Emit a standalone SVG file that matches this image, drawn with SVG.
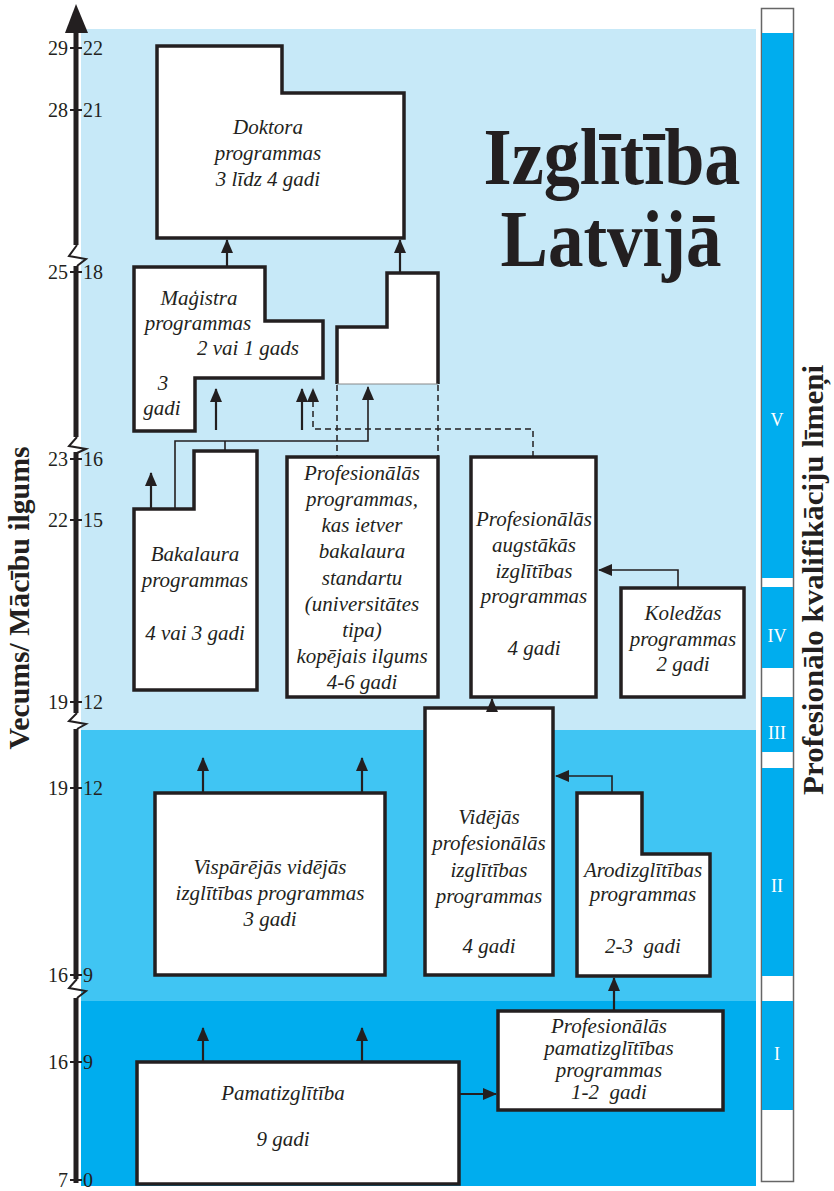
<svg xmlns="http://www.w3.org/2000/svg" width="834" height="1191" viewBox="0 0 834 1191">
<style>
.node{fill:#fff;stroke:#231F20;stroke-width:3.5;stroke-linejoin:miter}
.t{font-family:"Liberation Serif","Times New Roman",serif;font-style:italic;font-size:21px;fill:#231F20;text-anchor:middle}
.ax{font-family:"Liberation Serif","Times New Roman",serif;font-size:20px;fill:#231F20}
.rn{font-family:"Liberation Serif","Times New Roman",serif;font-size:18px;fill:#fff;text-anchor:middle}
.vt{font-family:"Liberation Serif","Times New Roman",serif;font-weight:bold;font-size:29px;fill:#231F20;text-anchor:middle}
.c{fill:none;stroke:#231F20;stroke-width:2.2}
.thin{fill:none;stroke:#231F20;stroke-width:1.6}
.d{fill:none;stroke:#231F20;stroke-width:1.5;stroke-dasharray:6,4}
.lvl{fill:#00ADEE}
</style>
<defs>
<marker id="ah" viewBox="0 0 14 12" refX="13" refY="6" markerWidth="14" markerHeight="12" orient="auto" markerUnits="userSpaceOnUse"><path d="M0,0 L14,6 L0,12 z" fill="#231F20"/></marker>
</defs>
<rect width="834" height="1191" fill="#fff"/>
<g id="bands">
<rect x="81" y="29" width="675" height="701" fill="#C7E9F8"/>
<rect x="81" y="730" width="675" height="271" fill="#40C5F3"/>
<rect x="81" y="1001" width="675" height="185" fill="#00ADEE"/>
</g>
<g id="axis">
<path d="M76,4 L65,33 L88,33 Z" fill="#231F20"/>
<g stroke="#231F20" stroke-width="5" fill="none">
<path d="M76,30 V245"/><path d="M76,266 V437"/><path d="M76,452 V713"/><path d="M76,729 V979"/><path d="M76,998 V1183"/>
</g>
<g stroke="#231F20" stroke-width="2" fill="none">
<polyline points="77,245 69,256 86,259 77,266"/>
<polyline points="77,437 69,446 86,449 77,453"/>
<polyline points="77,713 69,721 86,724 77,729"/>
<polyline points="77,979 69,988 86,991 77,998"/>
<path d="M70,48 H82 M70,110 H82 M70,272 H82 M70,459 H82 M70,520 H82 M70,702 H82 M70,788 H82 M70,975 H82 M70,1062 H82 M70,1180 H82"/>
</g>
<g class="ax">
<text x="68" y="55" text-anchor="end">29</text><text x="83" y="55">22</text>
<text x="68" y="117" text-anchor="end">28</text><text x="83" y="117">21</text>
<text x="68" y="279" text-anchor="end">25</text><text x="83" y="279">18</text>
<text x="68" y="466" text-anchor="end">23</text><text x="83" y="466">16</text>
<text x="68" y="527" text-anchor="end">22</text><text x="83" y="527">15</text>
<text x="68" y="709" text-anchor="end">19</text><text x="83" y="709">12</text>
<text x="68" y="795" text-anchor="end">19</text><text x="83" y="795">12</text>
<text x="68" y="982" text-anchor="end">16</text><text x="83" y="982">9</text>
<text x="68" y="1069" text-anchor="end">16</text><text x="83" y="1069">9</text>
<text x="68" y="1187" text-anchor="end">7</text><text x="83" y="1187">0</text>
</g>
<text class="vt" transform="translate(29,598) rotate(-90)" textLength="303" lengthAdjust="spacingAndGlyphs">Vecums/ Mācību ilgums</text>
</g>
<g id="levels">
<rect x="761.5" y="8.5" width="32" height="1173" fill="#fff" stroke="#666" stroke-width="1.5"/>
<rect class="lvl" x="762" y="33" width="31" height="545"/>
<rect class="lvl" x="762" y="587" width="31" height="81"/>
<rect class="lvl" x="762" y="697" width="31" height="55"/>
<rect class="lvl" x="762" y="768" width="31" height="208"/>
<rect class="lvl" x="762" y="1001" width="31" height="109"/>
<text class="rn" x="777" y="426">V</text>
<text class="rn" x="777" y="642">IV</text>
<text class="rn" x="777" y="739">III</text>
<text class="rn" x="777" y="892">II</text>
<text class="rn" x="777" y="1060">I</text>
<text class="vt" transform="translate(823,580) rotate(-90)" textLength="430" lengthAdjust="spacingAndGlyphs">Profesionālo kvalifikāciju līmeņi</text>
</g>
<g id="title" font-family="Liberation Serif, Times New Roman, serif" font-weight="bold" font-size="80" fill="#231F20" text-anchor="middle">
<text x="612" y="184" textLength="257" lengthAdjust="spacingAndGlyphs">Izglītība</text>
<text x="611" y="266" textLength="221" lengthAdjust="spacingAndGlyphs">Latvijā</text>
</g>
<g id="doktora">
<path class="node" d="M157,46 H282 V93 H404 V238 H157 Z"/>
<text class="t" x="268" y="134">Doktora</text>
<text class="t" x="268" y="160">programmas</text>
<text class="t" x="268" y="186">3 līdz 4 gadi</text>
</g>
<g id="magistra">
<path class="node" d="M134,267 H265 V321 H323 V378 H195 V431 H134 Z"/>
<text class="t" x="199" y="305">Maģistra</text>
<text class="t" x="198" y="330">programmas</text>
<text class="t" x="248" y="355">2 vai 1 gads</text>
<text class="t" x="163" y="390">3</text>
<text class="t" x="162" y="415">gadi</text>
</g>
<g id="magistra-prof">
<path d="M337,384 V327 H387 V273 H438 V384 Z" fill="#fff"/>
<path d="M337,384 V327 H387 V273 H438 V384" fill="none" stroke="#231F20" stroke-width="3.5"/>
<path d="M337,384 H438" stroke="#888" stroke-width="1"/>
</g>
<g id="bakalaura">
<path class="node" d="M134,509 H194 V451 H257 V690 H134 Z"/>
<text class="t" x="195" y="561">Bakalaura</text>
<text class="t" x="195" y="587">programmas</text>
<text class="t" x="195" y="640">4 vai 3 gadi</text>
</g>
<g id="prof-univ">
<rect class="node" x="287" y="457" width="151" height="240"/>
<text class="t" x="362" y="480">Profesionālās</text>
<text class="t" x="362" y="506">programmas,</text>
<text class="t" x="362" y="532">kas ietver</text>
<text class="t" x="362" y="558">bakalaura</text>
<text class="t" x="362" y="585">standartu</text>
<text class="t" x="362" y="611">(universitātes</text>
<text class="t" x="362" y="637">tipa)</text>
<text class="t" x="362" y="663">kopējais ilgums</text>
<text class="t" x="362" y="689">4-6 gadi</text>
</g>
<g id="prof-augst">
<rect class="node" x="471" y="457" width="125" height="240"/>
<text class="t" x="534" y="526">Profesionālās</text>
<text class="t" x="534" y="552">augstākās</text>
<text class="t" x="534" y="578">izglītības</text>
<text class="t" x="534" y="603">programmas</text>
<text class="t" x="534" y="655">4 gadi</text>
</g>
<g id="koledzas">
<rect class="node" x="621" y="588" width="123" height="109"/>
<text class="t" x="683" y="620">Koledžas</text>
<text class="t" x="683" y="646">programmas</text>
<text class="t" x="683" y="671">2 gadi</text>
</g>
<g id="visparejas">
<rect class="node" x="155" y="793" width="230" height="182"/>
<text class="t" x="270" y="874">Vispārējās vidējās</text>
<text class="t" x="270" y="900">izglītības programmas</text>
<text class="t" x="270" y="926">3 gadi</text>
</g>
<g id="videjas-prof">
<rect class="node" x="425" y="708" width="128" height="267"/>
<text class="t" x="489" y="824">Vidējās</text>
<text class="t" x="489" y="850">profesionālās</text>
<text class="t" x="489" y="877">izglītības</text>
<text class="t" x="489" y="903">programmas</text>
<text class="t" x="489" y="953">4 gadi</text>
</g>
<g id="arodizglitibas">
<path class="node" d="M577,793 H642 V854 H710 V976 H577 Z"/>
<text class="t" x="643" y="877">Arodizglītības</text>
<text class="t" x="643" y="901">programmas</text>
<text class="t" x="643" y="953">2-3&#160; gadi</text>
</g>
<g id="prof-pamat">
<rect class="node" x="498" y="1011" width="225" height="99"/>
<text class="t" x="609" y="1033">Profesionālās</text>
<text class="t" x="609" y="1055">pamatizglītības</text>
<text class="t" x="609" y="1077">programmas</text>
<text class="t" x="609" y="1099">1-2&#160; gadi</text>
</g>
<g id="pamat">
<rect class="node" x="137" y="1062" width="322" height="122"/>
<text class="t" x="283" y="1100">Pamatizglītība</text>
<text class="t" x="283" y="1146">9 gadi</text>
</g>
<g id="connectors">
<path class="c" d="M227,266 V240" marker-end="url(#ah)"/>
<path class="c" d="M400,272 V240" marker-end="url(#ah)"/>
<path class="c" d="M216,430 V389" marker-end="url(#ah)"/>
<path class="c" d="M302,430 V389" marker-end="url(#ah)"/>
<path class="d" d="M533,457 V429 H313 V389" marker-end="url(#ah)"/>
<path class="d" d="M337,385 V457 M438,385 V457"/>
<path class="thin" d="M175,509 V441 H368 V387" marker-end="url(#ah)"/>
<path class="thin" d="M225,451 V441"/>
<path class="c" d="M151,509 V473" marker-end="url(#ah)"/>
<path class="thin" d="M678,588 V570 H599" marker-end="url(#ah)"/>
<path class="c" d="M492,708 V699" marker-end="url(#ah)"/>
<path class="thin" d="M612,793 V776 H556" marker-end="url(#ah)"/>
<path class="c" d="M203,793 V758" marker-end="url(#ah)"/>
<path class="c" d="M362,793 V758" marker-end="url(#ah)"/>
<path class="c" d="M203,1062 V1028" marker-end="url(#ah)"/>
<path class="c" d="M362,1062 V1028" marker-end="url(#ah)"/>
<path class="c" d="M459,1094 H496" marker-end="url(#ah)"/>
<path class="c" d="M614,1011 V978" marker-end="url(#ah)"/>
</g>
</svg>
